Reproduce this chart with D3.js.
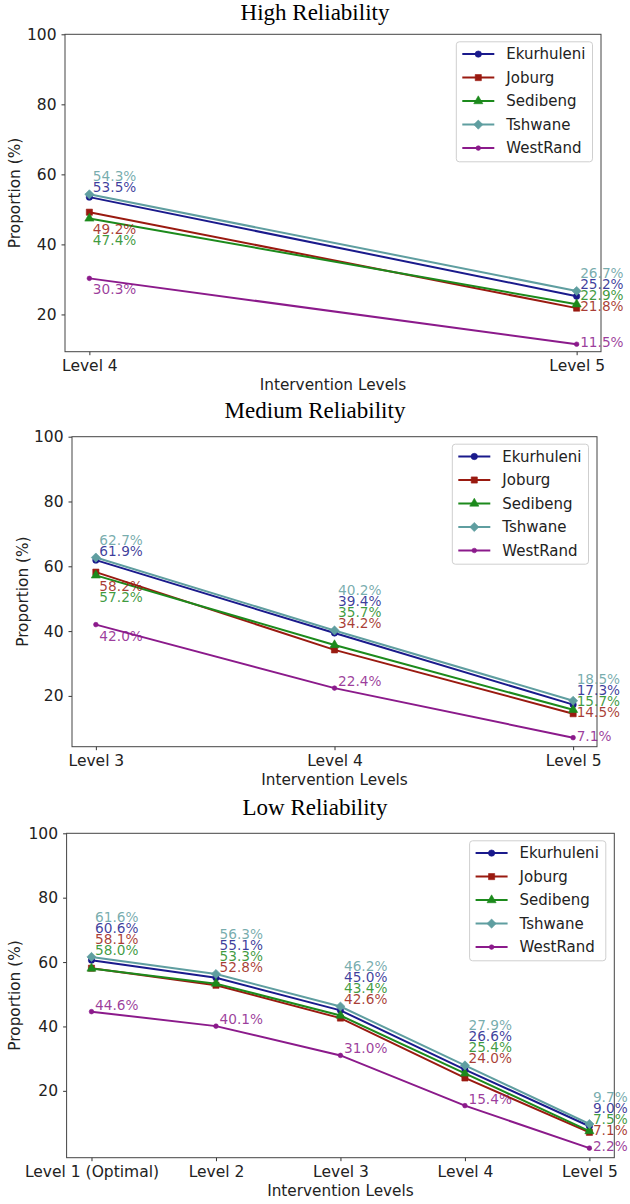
<!DOCTYPE html>
<html>
<head>
<meta charset="utf-8">
<script src="https://cdn.jsdelivr.net/npm/d3@7"></script>
<style>
  body { margin: 0; background: #fff; }
  svg { display: block; }
</style>
</head>
<body>
<div id="chart"></div>
<script>
// ---- data ----
const regions = ["Ekurhuleni", "Joburg", "Sedibeng", "Tshwane", "WestRand"];
const regionColors = ["#1a1a8c", "#9a1a10", "#1c8a1c", "#5f9ea0", "#8b1a8b"];

const highLevels = ["Level 4", "Level 5"];
const highValues = [
  [53.5, 25.2],   // Ekurhuleni
  [49.2, 21.8],   // Joburg
  [47.4, 22.9],   // Sedibeng
  [54.3, 26.7],   // Tshwane
  [30.3, 11.5]    // WestRand
];

const mediumLevels = ["Level 3", "Level 4", "Level 5"];
const mediumValues = [
  [61.9, 39.4, 17.3],
  [58.2, 34.2, 14.5],
  [57.2, 35.7, 15.7],
  [62.7, 40.2, 18.5],
  [42.0, 22.4, 7.1]
];

const lowLevels = ["Level 1 (Optimal)", "Level 2", "Level 3", "Level 4", "Level 5"];
const lowValues = [
  [60.6, 55.1, 45.0, 26.6, 9.0],
  [58.1, 52.8, 42.6, 24.0, 7.1],
  [58.0, 53.3, 43.4, 25.4, 7.5],
  [61.6, 56.3, 46.2, 27.9, 9.7],
  [44.6, 40.1, 31.0, 15.4, 2.2]
];

const yTicks = [20, 40, 60, 80, 100];

// ---- layout ----
const W = 630, H = 1204;
const panels = [
  {title: "High Reliability", levels: highLevels, values: highValues,
   box: {l: 65, r: 601, t: 34.3, b: 351.7}, titleY: 19.5, yLabelX: 15},
  {title: "Medium Reliability", levels: mediumLevels, values: mediumValues,
   box: {l: 72, r: 597, t: 436.7, b: 746.7}, titleY: 417.5, yLabelX: 23},
  {title: "Low Reliability", levels: lowLevels, values: lowValues,
   box: {l: 66.6, r: 614.3, t: 833.3, b: 1157.7}, titleY: 814.5, yLabelX: 15}
];

const sans = "'DejaVu Sans', sans-serif";
const serif = "'Liberation Serif', 'Times New Roman', serif";

const svg = d3.select("#chart").append("svg")
  .attr("width", W)
  .attr("height", H);

// marker shapes: circle, square, triangle, diamond, small dot
function drawMarker(sel, idx) {
  const shapes = [
    d3.symbol(d3.symbolCircle, 32),
    d3.symbol(d3.symbolSquare, 38),
    d3.symbol(d3.symbolTriangle, 36),
    d3.symbol(d3.symbolSquare, 42),
    d3.symbol(d3.symbolCircle, 17)
  ];
  sel.append("path")
    .attr("d", shapes[idx]())
    .attr("transform", idx === 3 ? "rotate(45)" : null)
    .attr("fill", regionColors[idx])
    .attr("stroke", regionColors[idx])
    .attr("stroke-width", 0.6);
}

// stack value labels of one level so they don't overlap
function placeLabels(items, first, last) {
  const gap = 11, lift = 7;
  if (last) {
    // nothing to the right: keep labels beside their points, push up from the bottom
    let prev = Infinity;
    for (let k = items.length - 1; k >= 0; k--) {
      items[k].ly = Math.min(items[k].py - 2, prev - gap);
      prev = items[k].ly;
    }
    return;
  }
  const limit = first ? 10 : 15;
  const groups = [];
  items.forEach((d, k) => {
    if (k === 0 || d.py - items[k - 1].py > limit) groups.push([d]);
    else groups[groups.length - 1].push(d);
  });
  const placed = [];
  let below = false;
  groups.forEach(grp => {
    const n = grp.length;
    let ys = grp.map((d, k) => grp[0].py - lift - gap * (n - 1 - k));
    if (!below && placed.some(p => ys.some(y => Math.abs(y - p) < gap))) below = true;
    if (below) {
      let start = grp[n - 1].py + gap;
      if (placed.length) start = Math.max(start, d3.max(placed) + gap);
      ys = grp.map((d, k) => start + gap * k);
    }
    grp.forEach((d, k) => { d.ly = ys[k]; placed.push(ys[k]); });
  });
}

panels.forEach(p => {
  const b = p.box;
  const n = p.levels.length;
  const g = svg.append("g");

  const x = d3.scalePoint()
    .domain(p.levels)
    .range([b.l, b.r])
    .padding(0.05 * (n - 1));

  const all = p.values.flat();
  const lo = d3.min(all), hi = d3.max(all);
  const y = d3.scaleLinear()
    .domain([lo - 0.05 * (hi - lo), 100])
    .range([b.b, b.t]);

  // title
  g.append("text")
    .attr("x", W / 2)
    .attr("y", p.titleY)
    .attr("text-anchor", "middle")
    .style("font-family", serif)
    .style("font-size", "23px")
    .text(p.title);

  // axes
  const xAxis = g.append("g")
    .attr("transform", `translate(0,${b.b})`)
    .call(d3.axisBottom(x).tickSizeInner(3.5).tickSizeOuter(0).tickPadding(4.5));
  const yAxis = g.append("g")
    .attr("transform", `translate(${b.l},0)`)
    .call(d3.axisLeft(y).tickValues(yTicks).tickSizeInner(3.5).tickSizeOuter(0).tickPadding(5));
  [xAxis, yAxis].forEach(a => {
    a.select(".domain").remove();
    a.selectAll("line").attr("stroke", "#333");
    a.selectAll("text")
      .style("font-family", sans)
      .style("font-size", "15.5px")
      .attr("fill", "#222");
  });

  // frame
  g.append("rect")
    .attr("x", b.l).attr("y", b.t)
    .attr("width", b.r - b.l).attr("height", b.b - b.t)
    .attr("fill", "none")
    .attr("stroke", "#444")
    .attr("stroke-width", 1);

  // axis labels
  g.append("text")
    .attr("x", (b.l + b.r) / 2)
    .attr("y", b.b + 33.5)
    .attr("text-anchor", "middle")
    .attr("dominant-baseline", "central")
    .style("font-family", sans)
    .style("font-size", "15.3px")
    .attr("fill", "#222")
    .text("Intervention Levels");

  g.append("text")
    .attr("transform", `translate(${p.yLabelX},${(b.t + b.b) / 2}) rotate(-90)`)
    .attr("text-anchor", "middle")
    .attr("dominant-baseline", "central")
    .style("font-family", sans)
    .style("font-size", "15.3px")
    .attr("fill", "#222")
    .text("Proportion (%)");

  // lines and markers
  const line = d3.line()
    .x((d, i) => x(p.levels[i]))
    .y(d => y(d));

  p.values.forEach((vals, si) => {
    g.append("path")
      .datum(vals)
      .attr("d", line)
      .attr("fill", "none")
      .attr("stroke", regionColors[si])
      .attr("stroke-width", 2);
    vals.forEach((v, i) => {
      g.append("g")
        .attr("transform", `translate(${x(p.levels[i])},${y(v)})`)
        .call(drawMarker, si);
    });
  });

  // value labels
  p.levels.forEach((lev, i) => {
    const items = p.values.map((vals, si) => ({si, v: vals[i], py: y(vals[i])}))
      .sort((a, c) => c.v - a.v);
    placeLabels(items, i === 0, i === n - 1);
    items.forEach(d => {
      g.append("text")
        .attr("x", x(lev) + 3.5)
        .attr("y", d.ly)
        .attr("dominant-baseline", "central")
        .style("font-family", sans)
        .style("font-size", "13.7px")
        .attr("fill", regionColors[d.si])
        .attr("fill-opacity", 0.85)
        .text(d.v.toFixed(1) + "%");
    });
  });

  // legend
  const lg = g.append("g");
  const box = lg.append("rect")
    .attr("rx", 3)
    .attr("fill", "white")
    .attr("fill-opacity", 0.85)
    .attr("stroke", "#cfcfcf");
  let maxW = 0;
  regions.forEach((name, si) => {
    const row = lg.append("g").attr("transform", `translate(0,${12.3 + si * 23.5})`);
    row.append("line")
      .attr("x1", 6).attr("x2", 38)
      .attr("stroke", regionColors[si])
      .attr("stroke-width", 2);
    row.append("g").attr("transform", "translate(22,0)").call(drawMarker, si);
    const t = row.append("text")
      .attr("x", 50)
      .attr("dominant-baseline", "central")
      .style("font-family", sans)
      .style("font-size", "15px")
      .attr("fill", "#222")
      .text(name);
    maxW = Math.max(maxW, t.node().getComputedTextLength());
  });
  const lw = 50 + maxW + 7;
  box.attr("width", lw).attr("height", 120);
  lg.attr("transform", `translate(${b.r - 8.5 - lw},${b.t + 7.5})`);
});
</script>
</body>
</html>
